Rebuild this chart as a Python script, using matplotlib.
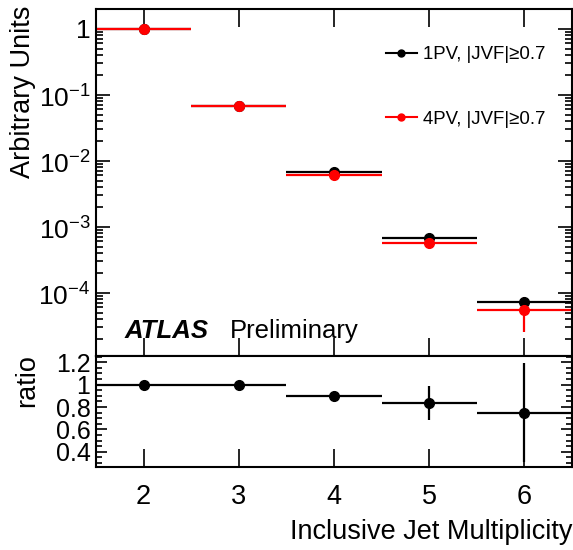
import matplotlib
matplotlib.use("Agg")
import matplotlib.pyplot as plt
from matplotlib.lines import Line2D
from matplotlib.ticker import LogLocator, MultipleLocator, FixedLocator, NullFormatter
import numpy as np

plt.rcParams['font.family'] = ['Liberation Sans', 'DejaVu Sans']
plt.rcParams['mathtext.fontset'] = 'custom'
plt.rcParams['mathtext.rm'] = 'Liberation Sans'

# data
njet = [2, 3, 4, 5, 6]
pv1 = [1.0, 0.068, 0.0068, 6.8e-4, 7.3e-5]
pv1_err = [0.003, 0.0008, 0.0002, 2.5e-5, 6e-6]
pv4 = [1.0, 0.068, 0.0061, 5.7e-4, 5.5e-5]
pv4_err = [0.004, 0.001, 0.0003, 5e-5, 3e-5]
ratio = [1.0, 1.0, 0.90, 0.835, 0.75]
ratio_err = [0.01, 0.01, 0.03, 0.155, 0.44]
bin_half = [0.5, 0.5, 0.5, 0.5, 0.5]

W, H = 573, 550
fig = plt.figure(figsize=(W / 100, H / 100), dpi=100)

left, right = 96 / W, 572 / W
top_y, mid_y, bot_y = 9, 356, 467
ax = fig.add_axes([left, 1 - mid_y / H, right - left, (mid_y - top_y) / H])
axr = fig.add_axes([left, 1 - bot_y / H, right - left, (bot_y - mid_y) / H], sharex=ax)

fs = 19.5
lw = 1.6

ax.errorbar(njet, pv1, xerr=bin_half, yerr=pv1_err, fmt='o', color='black',
            ms=7, lw=lw, capsize=0)
ax.errorbar(njet, pv4, xerr=bin_half, yerr=pv4_err, fmt='o', color='#ff0000',
            ms=7, lw=lw, capsize=0)
ax.set_yscale('log')
ax.set_xlim(1.5, 6.5)
ax.set_ylim(1.1e-5, 2.0)
ax.yaxis.set_major_locator(LogLocator(base=10, numticks=10))
ax.yaxis.set_minor_locator(LogLocator(base=10, subs=np.arange(2, 10), numticks=20))
ax.yaxis.set_minor_formatter(NullFormatter())
ax.set_yticks([1e-4, 1e-3, 1e-2, 1e-1, 1])
ax.set_yticklabels(['$10^{-4}$', '$10^{-3}$', '$10^{-2}$', '$10^{-1}$', '1'])
ax.tick_params(axis='both', which='both', direction='in', top=True, right=True,
               labelsize=19, width=1.2)
ax.tick_params(axis='x', which='major', length=13, labelbottom=False)
ax.tick_params(axis='y', which='major', length=10, pad=4)
ax.tick_params(axis='y', which='minor', length=5)
ax.set_ylabel('Arbitrary Units', fontsize=fs, loc='top')
ax.yaxis.set_label_coords(-0.127, 1.01)
for s in ax.spines.values():
    s.set_linewidth(1.5)

handles = [
    Line2D([], [], color='black', marker='o', ms=5, lw=1.5),
    Line2D([], [], color='#ff0000', marker='o', ms=5, lw=1.5),
]
ax.legend(handles, ['1PV, |JVF|≥0.7', '4PV, |JVF|≥0.7'], loc='upper left',
          bbox_to_anchor=(386 / W, 1 - 46 / H), bbox_transform=fig.transFigure,
          frameon=False, fontsize=13.4, handlelength=1.65, handletextpad=0.33,
          labelspacing=2.55, borderpad=0, borderaxespad=0)

fig.text(125 / W, 1 - 338 / H, 'ATLAS', fontsize=18.5, fontweight='bold',
         fontstyle='italic', va='baseline')
fig.text(230 / W, 1 - 338 / H, 'Preliminary', fontsize=18.5, va='baseline')

axr.errorbar(njet, ratio, xerr=bin_half, yerr=ratio_err, fmt='o', color='black',
             ms=7, lw=lw, capsize=0)
axr.set_ylim(0.265, 1.255)
axr.yaxis.set_major_locator(FixedLocator([0.4, 0.6, 0.8, 1.0, 1.2]))
axr.yaxis.set_minor_locator(MultipleLocator(0.05))
axr.set_xticks(njet)
axr.tick_params(axis='both', which='both', direction='in', right=True,
                labelsize=fs, width=1.2)
axr.tick_params(axis='y', which='major', labelsize=18)
axr.set_yticklabels(['0.4', '0.6', '0.8', '1', '1.2'])
axr.tick_params(axis='x', which='major', length=13, pad=12)
axr.tick_params(axis='y', which='major', length=8, pad=4)
axr.tick_params(axis='y', which='minor', length=4)
axr.set_ylabel('ratio', fontsize=fs, loc='top')
axr.yaxis.set_label_coords(-0.118, 1.02)
axr.set_xlabel('Inclusive Jet Multiplicity', fontsize=fs, loc='right')
axr.xaxis.set_label_coords(1.0, -0.47)
for s in axr.spines.values():
    s.set_linewidth(1.5)

fig.savefig('out.png', dpi=100)
